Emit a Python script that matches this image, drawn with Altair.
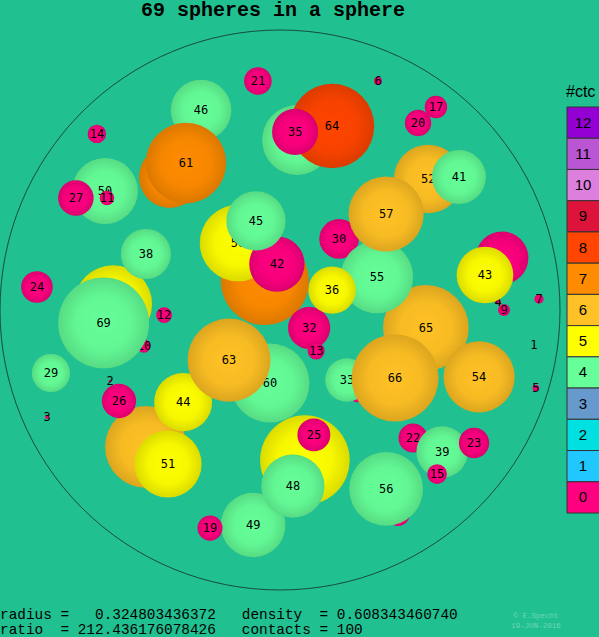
import altair as alt
import pandas as pd

# ---------------- data ----------------
# sphere number (= label), 1..69
numbers = list(range(1, 70))
# projected centre, in units of the container radius (container centre = 0,0)
x_pos = [0.907, -0.607, -0.832, 0.779, 0.914, 0.350, 0.925, 0.275, 0.800, -0.486,
         -0.618, -0.414, 0.129, -0.654, 0.561, 0.521, 0.557, 0.421, -0.250, 0.493,
         -0.079, 0.475, 0.693, -0.868, 0.121, -0.575, -0.729, 0.411, -0.818, 0.211,
         -0.182, 0.104, 0.239, -0.029, 0.054, 0.186, 0.186, -0.479, 0.579, 0.793,
         0.639, -0.011, 0.732, -0.346, -0.086, -0.282, -0.393, 0.046, -0.096, -0.625,
         -0.400, 0.529, 0.061, 0.711, 0.346, 0.379, 0.379, -0.150, -0.596, -0.036,
         -0.336, -0.479, -0.182, 0.186, 0.521, 0.411, -0.054, 0.089, -0.630]
y_pos = [-0.125, -0.254, -0.382, 0.029, -0.279, 0.818, 0.039, -0.311, 0.000, -0.129,
         0.400, -0.018, -0.146, 0.629, -0.586, -0.064, 0.725, -0.729, -0.779, 0.668,
         0.818, -0.457, -0.475, 0.082, -0.446, -0.325, 0.400, -0.243, -0.225, 0.254,
         -0.182, -0.064, -0.250, -0.268, 0.636, 0.071, 0.657, 0.200, -0.507, 0.186,
         0.475, 0.164, 0.125, -0.329, 0.318, 0.714, 0.475, -0.629, -0.768, 0.425,
         -0.550, 0.468, 0.607, -0.239, 0.118, -0.639, 0.343, 0.239, 0.021, -0.261,
         0.525, -0.489, -0.179, 0.657, -0.064, -0.243, 0.104, -0.536, -0.046]
# sphere radius, in units of the container radius
radii = [0.0024, 0.0047, 0.0071, 0.0094, 0.0118, 0.0141, 0.0165, 0.0188, 0.0212, 0.0235,
         0.0259, 0.0282, 0.0306, 0.0330, 0.0353, 0.0377, 0.0400, 0.0424, 0.0447, 0.0471,
         0.0494, 0.0518, 0.0541, 0.0565, 0.0588, 0.0612, 0.0635, 0.0659, 0.0683, 0.0706,
         0.0730, 0.0753, 0.0777, 0.0800, 0.0824, 0.0847, 0.0871, 0.0894, 0.0918, 0.0941,
         0.0965, 0.0989, 0.1012, 0.1036, 0.1059, 0.1083, 0.1106, 0.1130, 0.1153, 0.1177,
         0.1200, 0.1224, 0.1247, 0.1271, 0.1294, 0.1318, 0.1342, 0.1365, 0.1389, 0.1412,
         0.1436, 0.1459, 0.1483, 0.1506, 0.1530, 0.1553, 0.1577, 0.1600, 0.1624]
# number of contacts of each sphere
contacts = [0, 0, 0, 0, 0, 0, 0, 0, 0, 0,
            0, 0, 0, 0, 0, 6, 0, 0, 0, 0,
            0, 0, 0, 0, 0, 0, 0, 7, 4, 0,
            7, 0, 4, 7, 0, 5, 7, 4, 4, 0,
            4, 0, 5, 5, 4, 4, 7, 4, 4, 4,
            5, 6, 4, 6, 4, 4, 6, 5, 5, 4,
            7, 6, 6, 8, 6, 6, 7, 5, 4]
# drawing order, back to front (depth)
draw_order = [16, 28, 31, 34, 37, 8, 18, 10, 40, 47, 53, 59, 62, 67, 68, 22, 30, 50, 52, 65,
              33, 60, 49, 46, 1, 2, 3, 4, 5, 6, 7, 9, 12, 14, 17, 19, 20, 21, 24, 29,
              32, 13, 38, 69, 39, 15, 23, 41, 43, 44, 51, 26, 48, 25, 54, 55, 36, 57, 58, 42,
              45, 56, 61, 63, 64, 35, 66, 27, 11]
# spheres whose number cannot be seen (hidden behind nearer spheres)
hidden_labels = [8, 16, 18, 28, 31, 34, 37, 40, 47, 53, 59, 62, 67, 68]

ctc_levels = [12, 11, 10, 9, 8, 7, 6, 5, 4, 3, 2, 1, 0]
ctc_colors = ["#9400d3", "#ba55d3", "#dd80dd", "#dc143c", "#ff4500", "#ff8c00", "#ffc125",
              "#ffff00", "#66ff99", "#6699cc", "#00e0e0", "#20c8ff", "#ff0080"]

title_text = "69 spheres in a sphere"
radius_value = "0.324803436372"
density_value = "0.608343460740"
ratio_value = "212.436176078426"
contacts_total = 100
credit_lines = ["\u00a9 E.Specht", "19-JUN-2016"]

# ---------------- styling ----------------
BG = "#20c090"
W, H = 599, 637
MONO = "Liberation Mono"
NB = "\u00a0"


def shade(hex_color, f):
    h = hex_color.lstrip("#")
    r, g, b = (int(h[i:i + 2], 16) for i in (0, 2, 4))
    return "#%02x%02x%02x" % (int(r * f), int(g * f), int(b * f))


color_of = dict(zip(ctc_levels, ctc_colors))


def sphere_fill(c):
    base = color_of[c]
    return alt.RadialGradient(
        gradient="radial", x1=0.5, y1=0.5, r1=0, x2=0.5, y2=0.5, r2=0.5,
        stops=[alt.GradientStop(offset=0, color=base),
               alt.GradientStop(offset=0.6, color=shade(base, 0.97)),
               alt.GradientStop(offset=1, color=shade(base, 0.86))])


df = pd.DataFrame({"n": numbers, "x": x_pos, "y": y_pos, "r": radii, "ctc": contacts})
ctc_by_n = dict(zip(numbers, contacts))

xs = alt.Scale(domain=[-1, 1], range=[0, 560], nice=False, zero=False)
ys = alt.Scale(domain=[-1, 1], range=[590, 30], nice=False, zero=False)
ss = alt.Scale(type="pow", exponent=2, domain=[0, 1], range=[0, 560 * 560])

X = alt.X("x:Q", scale=xs, axis=None)
Y = alt.Y("y:Q", scale=ys, axis=None)
S = alt.Size("r:Q", scale=ss, legend=None)

container = alt.Chart(pd.DataFrame({"x": [0.0], "y": [0.0], "r": [1.0]})).mark_point(
    shape="circle", filled=False, stroke="#174c3e", strokeWidth=1, opacity=1
).encode(x=X, y=Y, size=S)

layers = [container]
for n in draw_order:
    base = alt.Chart(df).transform_filter(alt.datum.n == n)
    layers.append(base.mark_circle(fill=sphere_fill(ctc_by_n[n]), opacity=1, strokeWidth=0)
                  .encode(x=X, y=Y, size=S))
    if n not in hidden_labels:
        layers.append(base.mark_text(font="DejaVu Sans Mono", fontSize=12, color="#000000",
                                     align="center", baseline="middle")
                      .encode(x=X, y=Y, text="n:Q"))
spheres = alt.layer(*layers)

leg_df = pd.DataFrame({"ctc": ctc_levels})
LY = alt.Y("ctc:O", scale=alt.Scale(domain=ctc_levels, range=[107, 513],
                                     paddingInner=0, paddingOuter=0), axis=None)
leg_rect = alt.Chart(leg_df).mark_rect(stroke="#333333", strokeWidth=1).encode(
    y=LY, x=alt.value(567), x2=alt.value(600),
    fill=alt.Fill("ctc:O", scale=alt.Scale(domain=ctc_levels, range=ctc_colors), legend=None))
leg_text = alt.Chart(leg_df).mark_text(font="Liberation Sans", fontSize=15, color="#000000",
                                       baseline="middle").encode(
    y=LY, x=alt.value(583), text="ctc:O")
leg_title = alt.Chart(pd.DataFrame({"t": ["#ctc"]})).mark_text(
    font="Liberation Sans", fontSize=16, color="#000000", align="left", baseline="middle"
).encode(x=alt.value(566), y=alt.value(92), text="t:N")
legend = alt.layer(leg_rect, leg_text, leg_title)

line1 = ("radius =" + NB * 3 + radius_value + NB * 3 + "density" + NB * 2 + "= " + density_value).replace(" ", NB)
line2 = ("ratio" + NB * 2 + "= " + ratio_value + NB * 3 + "contacts = " + str(contacts_total)).replace(" ", NB)

title = alt.Chart(pd.DataFrame({"t": [title_text]})).mark_text(
    font=MONO, fontSize=20, fontWeight="bold", color="#000000", align="center", baseline="middle"
).encode(x=alt.value(273), y=alt.value(10), text="t:N")
stat1 = alt.Chart(pd.DataFrame({"t": [line1]})).mark_text(
    font=MONO, fontSize=14.4, color="#000000", align="left", baseline="alphabetic"
).encode(x=alt.value(0), y=alt.value(619), text="t:N")
stat2 = alt.Chart(pd.DataFrame({"t": [line2]})).mark_text(
    font=MONO, fontSize=14.4, color="#000000", align="left", baseline="alphabetic"
).encode(x=alt.value(0), y=alt.value(634), text="t:N")
credit1 = alt.Chart(pd.DataFrame({"t": [credit_lines[0]]})).mark_text(
    font=MONO, fontSize=7.5, color="#74d6b6", align="center", baseline="middle"
).encode(x=alt.value(536), y=alt.value(616), text="t:N")
credit2 = alt.Chart(pd.DataFrame({"t": [credit_lines[1]]})).mark_text(
    font=MONO, fontSize=7.5, color="#74d6b6", align="center", baseline="middle"
).encode(x=alt.value(536), y=alt.value(626), text="t:N")
notes = alt.layer(title, stat1, stat2, credit1, credit2)

chart = alt.layer(spheres, legend, notes).resolve_scale(
    y="independent", x="independent"
).properties(
    width=W, height=H, autosize=alt.AutoSizeParams(type="none"), padding=0, background=BG
).configure_view(strokeWidth=0, fill=BG)

chart.save("out.html", embed_options={"renderer": "svg", "actions": False})
